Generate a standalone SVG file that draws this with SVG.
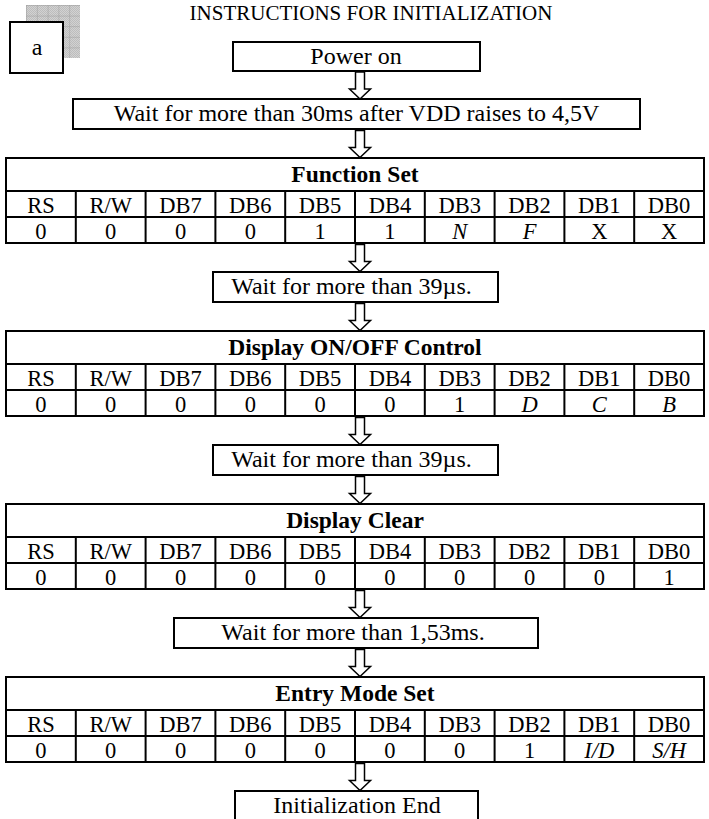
<svg xmlns="http://www.w3.org/2000/svg" width="709" height="819" viewBox="0 0 709 819">
<style>
text{font-family:"Liberation Serif","Times New Roman",serif;fill:#000}
.box{fill:#fff;stroke:#000;stroke-width:2}
.tbl{fill:#fff;stroke:#000;stroke-width:2}
.ln{stroke:#000;stroke-width:2;fill:none}
.bt{font-family:"Liberation Serif",serif;font-size:24px;text-anchor:middle}
.tt{font-family:"Liberation Serif",serif;font-size:23.5px;font-weight:bold;text-anchor:middle}
.ct{font-family:"Liberation Serif",serif;font-size:22.5px;text-anchor:middle}
.it{font-style:italic}
.arrow{fill:#fff;stroke:#000;stroke-width:1.5;stroke-linejoin:miter}
</style>
<defs>
<pattern id="fine" width="2" height="2" patternUnits="userSpaceOnUse">
<rect width="2" height="2" fill="#d2d2d2"/>
<rect width="1" height="1" fill="#bdbdbd"/>
<rect x="1" y="1" width="1" height="1" fill="#bdbdbd"/>
</pattern>
<pattern id="grid" x="26" y="5" width="10.8" height="10.6" patternUnits="userSpaceOnUse">
<path d="M0,0 H10.8 M0,0 V10.6" stroke="#9c9c9c" stroke-width="1" fill="none"/>
</pattern>
<path id="arr" d="M-4.5,1 H4.5 V18 H10.5 L0,28 L-10.5,18 H-4.5 Z"/>
</defs>

<g id="title">
<text x="371" y="20" class="bt" style="font-size:21px">INSTRUCTIONS FOR INITIALIZATION</text>
</g>

<g id="label-a">
<rect x="26" y="5" width="54" height="53" fill="url(#fine)"/>
<rect x="26" y="5" width="54" height="53" fill="url(#grid)"/>
<rect class="box" x="10" y="22" width="53" height="51"/>
<text x="37" y="55" class="bt">a</text>
</g>

<g id="connectors" class="arrow">
<use href="#arr" transform="translate(360,71)"/>
<use href="#arr" transform="translate(360,129.5)"/>
<use href="#arr" transform="translate(360,243.5)"/>
<use href="#arr" transform="translate(360,302.5)"/>
<use href="#arr" transform="translate(360,416.5)"/>
<use href="#arr" transform="translate(360,475.5)"/>
<use href="#arr" transform="translate(360,589.5)"/>
<use href="#arr" transform="translate(360,648.5)"/>
<use href="#arr" transform="translate(360,762.5)"/>
</g>

<g id="power-on">
<rect class="box" x="233" y="42" width="247" height="29"/>
<text x="356" y="64" class="bt">Power on</text>
</g>

<g id="wait-30ms">
<rect class="box" x="73" y="99" width="567" height="30"/>
<text x="356.5" y="121" class="bt">Wait for more than 30ms after VDD raises to 4,5V</text>
</g>

<g id="function-set">
<rect class="tbl" x="6" y="158" width="698" height="85"/>
<path class="ln" d="M6,191 H704 M6,217 H704 M75.8,191 V243 M145.6,191 V243 M215.4,191 V243 M285.2,191 V243 M355,191 V243 M424.8,191 V243 M494.6,191 V243 M564.4,191 V243 M634.2,191 V243"/>
<text x="355" y="182" class="tt">Function Set</text>
<g class="ct">
<text x="40.9" y="213">RS</text><text x="110.7" y="213">R/W</text><text x="180.5" y="213">DB7</text><text x="250.3" y="213">DB6</text><text x="320.1" y="213">DB5</text><text x="389.9" y="213">DB4</text><text x="459.7" y="213">DB3</text><text x="529.5" y="213">DB2</text><text x="599.3" y="213">DB1</text><text x="669.1" y="213">DB0</text>
<text x="40.9" y="239">0</text><text x="110.7" y="239">0</text><text x="180.5" y="239">0</text><text x="250.3" y="239">0</text><text x="320.1" y="239">1</text><text x="389.9" y="239">1</text><text x="459.7" y="239" class="it">N</text><text x="529.5" y="239" class="it">F</text><text x="599.3" y="239">X</text><text x="669.1" y="239">X</text>
</g>
</g>

<g id="wait-39us-1">
<rect class="box" x="213" y="272" width="285" height="30"/>
<text x="351.5" y="294" class="bt">Wait for more than 39µs.</text>
</g>

<g id="display-control">
<rect class="tbl" x="6" y="331" width="698" height="85"/>
<path class="ln" d="M6,364 H704 M6,390 H704 M75.8,364 V416 M145.6,364 V416 M215.4,364 V416 M285.2,364 V416 M355,364 V416 M424.8,364 V416 M494.6,364 V416 M564.4,364 V416 M634.2,364 V416"/>
<text x="355" y="355" class="tt">Display ON/OFF Control</text>
<g class="ct">
<text x="40.9" y="386">RS</text><text x="110.7" y="386">R/W</text><text x="180.5" y="386">DB7</text><text x="250.3" y="386">DB6</text><text x="320.1" y="386">DB5</text><text x="389.9" y="386">DB4</text><text x="459.7" y="386">DB3</text><text x="529.5" y="386">DB2</text><text x="599.3" y="386">DB1</text><text x="669.1" y="386">DB0</text>
<text x="40.9" y="412">0</text><text x="110.7" y="412">0</text><text x="180.5" y="412">0</text><text x="250.3" y="412">0</text><text x="320.1" y="412">0</text><text x="389.9" y="412">0</text><text x="459.7" y="412">1</text><text x="529.5" y="412" class="it">D</text><text x="599.3" y="412" class="it">C</text><text x="669.1" y="412" class="it">B</text>
</g>
</g>

<g id="wait-39us-2">
<rect class="box" x="213" y="445" width="285" height="30"/>
<text x="351.5" y="467" class="bt">Wait for more than 39µs.</text>
</g>

<g id="display-clear">
<rect class="tbl" x="6" y="504" width="698" height="85"/>
<path class="ln" d="M6,537 H704 M6,563 H704 M75.8,537 V589 M145.6,537 V589 M215.4,537 V589 M285.2,537 V589 M355,537 V589 M424.8,537 V589 M494.6,537 V589 M564.4,537 V589 M634.2,537 V589"/>
<text x="355" y="528" class="tt">Display Clear</text>
<g class="ct">
<text x="40.9" y="559">RS</text><text x="110.7" y="559">R/W</text><text x="180.5" y="559">DB7</text><text x="250.3" y="559">DB6</text><text x="320.1" y="559">DB5</text><text x="389.9" y="559">DB4</text><text x="459.7" y="559">DB3</text><text x="529.5" y="559">DB2</text><text x="599.3" y="559">DB1</text><text x="669.1" y="559">DB0</text>
<text x="40.9" y="585">0</text><text x="110.7" y="585">0</text><text x="180.5" y="585">0</text><text x="250.3" y="585">0</text><text x="320.1" y="585">0</text><text x="389.9" y="585">0</text><text x="459.7" y="585">0</text><text x="529.5" y="585">0</text><text x="599.3" y="585">0</text><text x="669.1" y="585">1</text>
</g>
</g>

<g id="wait-153ms">
<rect class="box" x="174" y="618" width="364" height="30"/>
<text x="353" y="640" class="bt">Wait for more than 1,53ms.</text>
</g>

<g id="entry-mode-set">
<rect class="tbl" x="6" y="677" width="698" height="85"/>
<path class="ln" d="M6,710 H704 M6,736 H704 M75.8,710 V762 M145.6,710 V762 M215.4,710 V762 M285.2,710 V762 M355,710 V762 M424.8,710 V762 M494.6,710 V762 M564.4,710 V762 M634.2,710 V762"/>
<text x="355" y="701" class="tt">Entry Mode Set</text>
<g class="ct">
<text x="40.9" y="732">RS</text><text x="110.7" y="732">R/W</text><text x="180.5" y="732">DB7</text><text x="250.3" y="732">DB6</text><text x="320.1" y="732">DB5</text><text x="389.9" y="732">DB4</text><text x="459.7" y="732">DB3</text><text x="529.5" y="732">DB2</text><text x="599.3" y="732">DB1</text><text x="669.1" y="732">DB0</text>
<text x="40.9" y="758">0</text><text x="110.7" y="758">0</text><text x="180.5" y="758">0</text><text x="250.3" y="758">0</text><text x="320.1" y="758">0</text><text x="389.9" y="758">0</text><text x="459.7" y="758">0</text><text x="529.5" y="758">1</text><text x="599.3" y="758" class="it">I/D</text><text x="669.1" y="758" class="it">S/H</text>
</g>
</g>

<g id="init-end">
<rect class="box" x="235" y="791" width="243" height="30"/>
<text x="357" y="813" class="bt">Initialization End</text>
</g>
</svg>
